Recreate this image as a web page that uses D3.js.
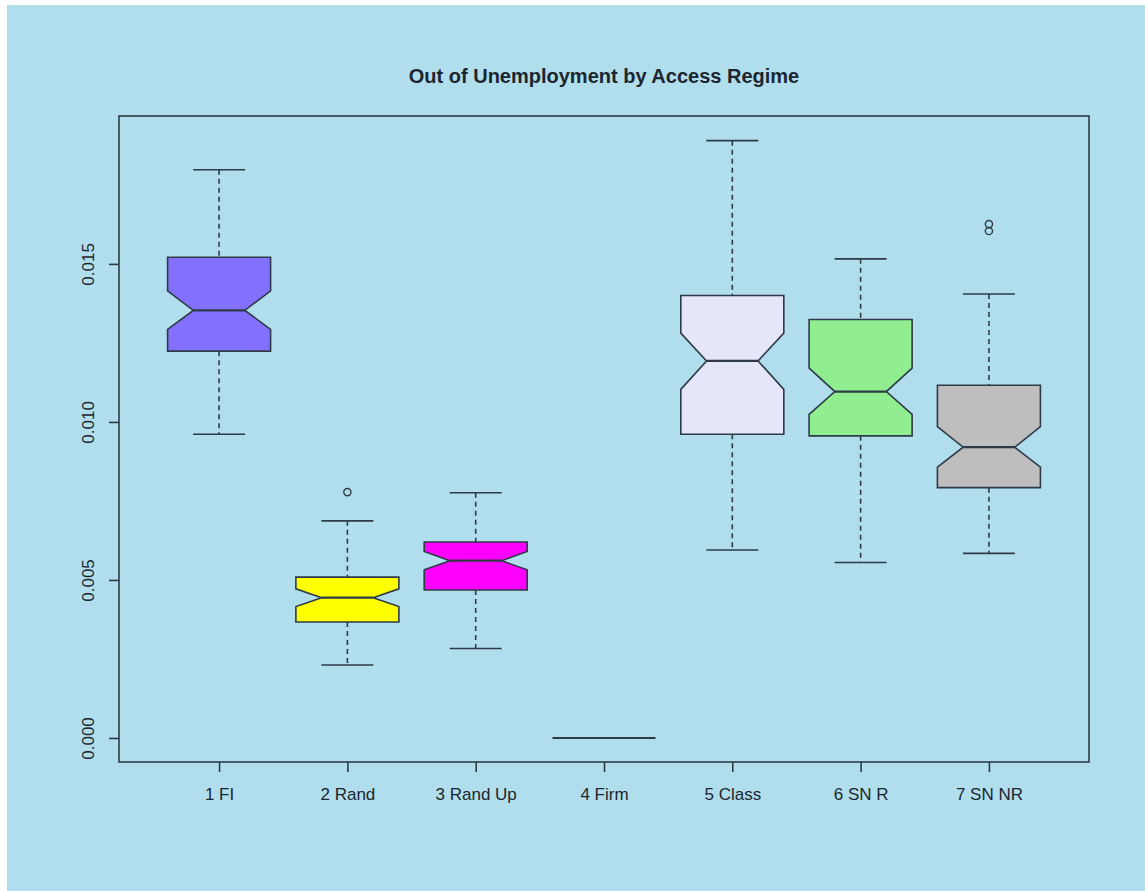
<!DOCTYPE html>
<html>
<head>
<meta charset="utf-8">
<script src="https://cdn.jsdelivr.net/npm/d3@7"></script>
<style>
html,body{margin:0;padding:0;background:#fff;}
svg{display:block;}
text{font-family:"Liberation Sans",Arial,Helvetica,sans-serif;fill:#1c2630;}
</style>
</head>
<body>
<svg id="chart" width="1145" height="891"></svg>
<script>
// ---- data ----
const categories = ["1 FI","2 Rand","3 Rand Up","4 Firm","5 Class","6 SN R","7 SN NR"];
const whiskerLow  = [0.00961,0.00231,0.00283,0,0.00595,0.00555,0.00584];
const q1          = [0.01224,0.00367,0.00468,0,0.00961,0.00956,0.00792];
const notchLow    = [0.01293,0.00416,0.00532,0,0.01103,0.01024,0.00857];
const median      = [0.01353,0.00444,0.00561,0,0.01193,0.01096,0.00920];
const notchHigh   = [0.01415,0.00472,0.00590,0,0.01281,0.01170,0.00985];
const q3          = [0.01521,0.00509,0.00620,0,0.01400,0.01324,0.01116];
const whiskerHigh = [0.01798,0.00687,0.00776,0,0.01890,0.01516,0.01405];
const outliers    = [[],[0.00778],[],[],[],[],[0.01626,0.01604]];
const fills       = ["#8470ff","#ffff00","#ff00ff","#ffffff","#e6e6fa","#90ee90","#bebebe"];
const yTicks      = [0,0.005,0.010,0.015];
const title       = "Out of Unemployment by Access Regime";

// ---- layout ----
const svg = d3.select("#chart");
const L=119, R=1089, T=116, B=762;
const ink = "#2e3b47";

svg.append("rect").attr("x",7).attr("y",5).attr("width",1145-7).attr("height",891-5).attr("fill","#b1deec");

const x = d3.scaleLinear().domain([0.5-0.28, 7.5+0.28]).range([L,R]);
const y = d3.scaleLinear().domain([-0.00076, 0.01968]).range([B,T]);

const boxHalf = 51.5, capHalf = 26;

const data = categories.map((c,i)=>({
  c, i, pos:i+1, lo:whiskerLow[i], q1:q1[i], nl:notchLow[i], med:median[i],
  nh:notchHigh[i], q3:q3[i], hi:whiskerHigh[i], out:outliers[i], fill:fills[i]
}));

const g = svg.append("g");
data.forEach(d=>{
  const cx = x(d.pos);
  const grp = g.append("g");
  if (d.hi===d.lo && d.q1===d.q3) {
    grp.append("line").attr("x1",cx-boxHalf).attr("x2",cx+boxHalf)
      .attr("y1",y(d.med)).attr("y2",y(d.med)).attr("stroke",ink).attr("stroke-width",2);
    return;
  }
  // whiskers
  grp.append("line").attr("x1",cx).attr("x2",cx).attr("y1",y(d.hi)).attr("y2",y(d.q3))
    .attr("stroke",ink).attr("stroke-width",1.6).attr("stroke-dasharray","5,4");
  grp.append("line").attr("x1",cx).attr("x2",cx).attr("y1",y(d.q1)).attr("y2",y(d.lo))
    .attr("stroke",ink).attr("stroke-width",1.6).attr("stroke-dasharray","5,4");
  [d.hi,d.lo].forEach(v=>{
    grp.append("line").attr("x1",cx-capHalf).attr("x2",cx+capHalf).attr("y1",y(v)).attr("y2",y(v))
      .attr("stroke",ink).attr("stroke-width",1.6);
  });
  // notched box
  const pts = [
    [cx-boxHalf,y(d.q3)],[cx+boxHalf,y(d.q3)],[cx+boxHalf,y(d.nh)],[cx+boxHalf/2,y(d.med)],
    [cx+boxHalf,y(d.nl)],[cx+boxHalf,y(d.q1)],[cx-boxHalf,y(d.q1)],[cx-boxHalf,y(d.nl)],
    [cx-boxHalf/2,y(d.med)],[cx-boxHalf,y(d.nh)]
  ];
  grp.append("path").attr("d",d3.line()(pts)+"Z").attr("fill",d.fill)
    .attr("stroke",ink).attr("stroke-width",1.6).attr("stroke-linejoin","miter");
  grp.append("line").attr("x1",cx-boxHalf/2).attr("x2",cx+boxHalf/2).attr("y1",y(d.med)).attr("y2",y(d.med))
    .attr("stroke",ink).attr("stroke-width",2.2);
  d.out.forEach(v=>{
    grp.append("circle").attr("cx",cx).attr("cy",y(v)).attr("r",3.6)
      .attr("fill","none").attr("stroke",ink).attr("stroke-width",1.4);
  });
});

// frame
svg.append("rect").attr("x",L).attr("y",T).attr("width",R-L).attr("height",B-T)
  .attr("fill","none").attr("stroke",ink).attr("stroke-width",1.6);

// y axis
const yAxis = d3.axisLeft(y).tickValues(yTicks).tickFormat(d3.format(".3f")).tickSize(10).tickSizeOuter(0);
const ya = svg.append("g").attr("transform",`translate(${L},0)`).call(yAxis);
ya.select(".domain").remove();
ya.selectAll(".tick line").attr("stroke",ink).attr("stroke-width",1.6);
ya.selectAll(".tick text").attr("transform","rotate(-90)").attr("x",0).attr("y",-31)
  .attr("dy",null).attr("dominant-baseline","central").attr("text-anchor","middle")
  .style("font-size","17px").attr("fill","#1c2630");

// x axis
const xAxis = d3.axisBottom(x).tickValues(data.map(d=>d.pos)).tickFormat(v=>categories[v-1]).tickSize(10).tickSizeOuter(0);
const xa = svg.append("g").attr("transform",`translate(0,${B})`).call(xAxis);
xa.select(".domain").remove();
xa.selectAll(".tick line").attr("stroke",ink).attr("stroke-width",1.6);
xa.selectAll(".tick text").attr("y",38).attr("dy",null).style("font-size","17px").attr("fill","#1c2630");

// title
svg.append("text").attr("x",(L+R)/2).attr("y",83).attr("text-anchor","middle")
  .style("font-size","20px").style("font-weight","bold").text(title);
</script>
</body>
</html>
